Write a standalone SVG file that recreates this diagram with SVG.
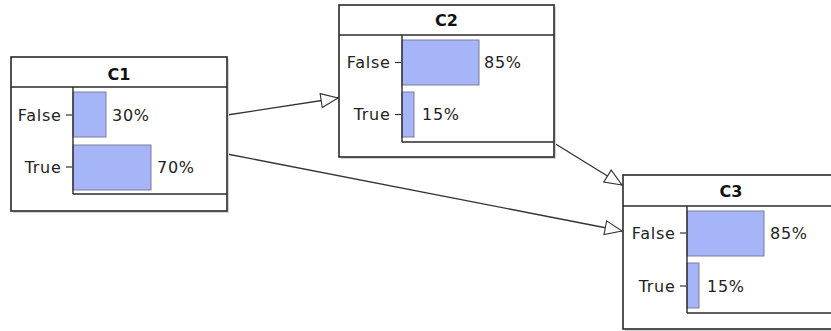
<svg xmlns="http://www.w3.org/2000/svg" width="831" height="331" viewBox="0 0 831 331">
<defs>
<marker id="arr" markerUnits="userSpaceOnUse" markerWidth="20" markerHeight="16" refX="17" refY="7" orient="auto" viewBox="-1 -1 20 16">
<path d="M0,0 L17,7 L0,14 Z" fill="#fff" stroke="#333" stroke-width="1.1"/>
</marker>
</defs>
<style>
.shadow{fill:#d4d4d4}
.box{fill:#fff;stroke:#2a2a2a;stroke-width:1.6}
.ln{stroke:#2a2a2a;stroke-width:1.4;fill:none}
.bar{fill:#a6b4f8;stroke:#7d7d9a;stroke-width:1}
.tick{stroke:#333;stroke-width:1.2}
.t{font-family:"DejaVu Sans",Verdana,sans-serif;font-size:16px;fill:#222;letter-spacing:0.7px}
.lbl{text-anchor:end}
.title{font-family:"DejaVu Sans",Verdana,sans-serif;font-size:16px;font-weight:bold;fill:#111;text-anchor:middle}
.conn{stroke:#333;stroke-width:1.3;fill:none;marker-end:url(#arr)}
</style>
<g id="connectors">
<line class="conn" x1="227" y1="115" x2="338" y2="98"/>
<line class="conn" x1="227" y1="154" x2="622" y2="231"/>
<line class="conn" x1="554" y1="143" x2="622" y2="185"/>
</g>
<g id="C1" transform="translate(11,57)">
<rect class="shadow" x="2" y="2" width="216" height="154"/>
<rect class="box" x="0" y="0" width="216" height="154"/>
<line class="ln" x1="0" y1="30" x2="216" y2="30"/>
<text class="title" x="108" y="23">C1</text>
<rect class="bar" x="62" y="35" width="33" height="45"/>
<rect class="bar" x="62" y="88" width="78" height="45"/>
<line class="ln" x1="62" y1="30" x2="62" y2="137"/>
<line class="ln" x1="62" y1="137" x2="216" y2="137"/>
<line class="tick" x1="55" y1="58" x2="61" y2="58"/>
<line class="tick" x1="55" y1="110" x2="61" y2="110"/>
<text class="t lbl" x="50.5" y="63.5">False</text>
<text class="t lbl" x="50.5" y="115.5">True</text>
<text class="t" x="101" y="63.5">30%</text>
<text class="t" x="146" y="115.5">70%</text>
</g>
<g id="C2" transform="translate(339,5)">
<rect class="shadow" x="2" y="2" width="215" height="152"/>
<rect class="box" x="0" y="0" width="215" height="152"/>
<line class="ln" x1="0" y1="30" x2="215" y2="30"/>
<text class="title" x="107.5" y="20.5">C2</text>
<rect class="bar" x="63" y="35" width="77" height="45"/>
<rect class="bar" x="63" y="87" width="12" height="45"/>
<line class="ln" x1="63" y1="30" x2="63" y2="137"/>
<line class="ln" x1="63" y1="137" x2="215" y2="137"/>
<line class="tick" x1="56" y1="57.5" x2="62" y2="57.5"/>
<line class="tick" x1="56" y1="109.5" x2="62" y2="109.5"/>
<text class="t lbl" x="51.5" y="63">False</text>
<text class="t lbl" x="51.5" y="115">True</text>
<text class="t" x="145" y="63">85%</text>
<text class="t" x="83" y="115">15%</text>
</g>
<g id="C3" transform="translate(623,175)">
<rect class="shadow" x="2" y="2" width="216" height="154"/>
<rect class="box" x="0" y="0" width="216" height="154"/>
<line class="ln" x1="0" y1="31" x2="216" y2="31"/>
<text class="title" x="108" y="22">C3</text>
<rect class="bar" x="64" y="36" width="77" height="45"/>
<rect class="bar" x="64" y="88" width="12" height="45"/>
<line class="ln" x1="64" y1="31" x2="64" y2="138"/>
<line class="ln" x1="64" y1="138" x2="216" y2="138"/>
<line class="tick" x1="57" y1="58" x2="63" y2="58"/>
<line class="tick" x1="57" y1="111" x2="63" y2="111"/>
<text class="t lbl" x="52.5" y="63.5">False</text>
<text class="t lbl" x="52.5" y="116.5">True</text>
<text class="t" x="147" y="63.5">85%</text>
<text class="t" x="84" y="116.5">15%</text>
</g>
</svg>
